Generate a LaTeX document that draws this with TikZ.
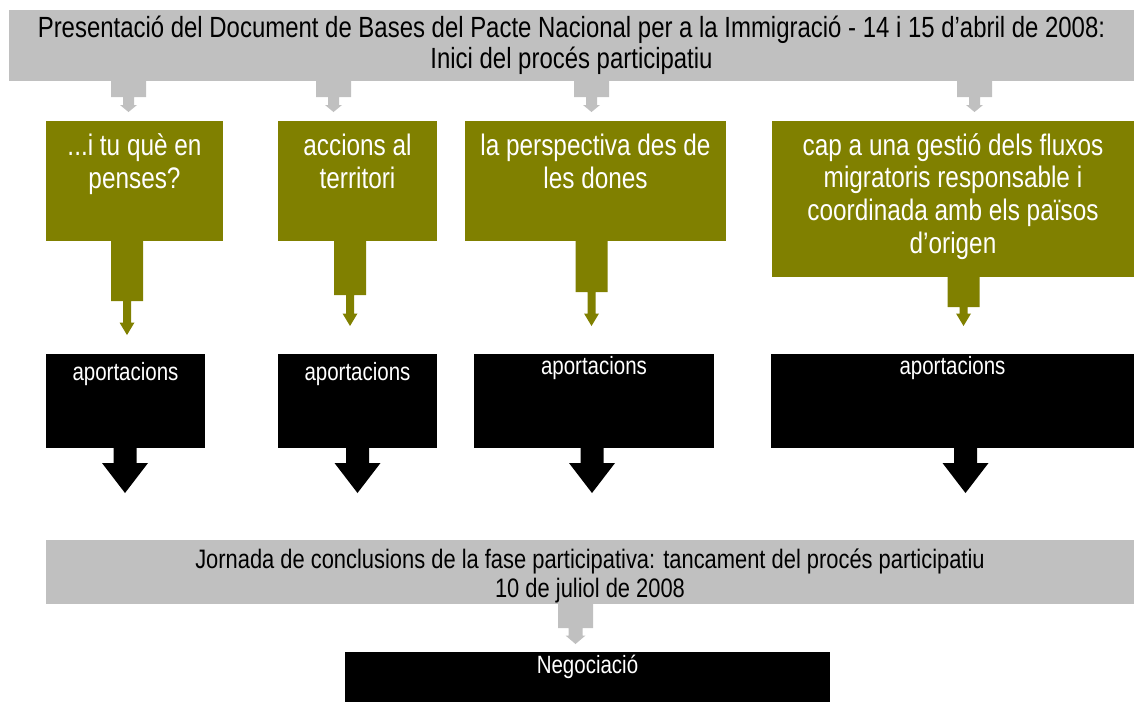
\documentclass[tikz,border=0pt]{standalone}
\usepackage{fontspec}
\setmainfont{Liberation Sans}[FakeStretch=0.82]
\usetikzlibrary{calc}
\definecolor{olivebox}{HTML}{808000}
\definecolor{graybox}{HTML}{C0C0C0}
\tikzset{
  arrw/.store in=\AWd, arrt/.store in=\ATd, arrh/.store in=\AHd, arrl/.store in=\ALd,
  panel/.style={rectangle, inner sep=0pt, outer sep=0pt, draw=none, anchor=north west},
  graypanel/.style={panel, fill=graybox},
  olivepanel/.style={panel, fill=olivebox},
  blackpanel/.style={panel, fill=black},
  bannertext/.style={inner sep=0pt, anchor=base, align=center, text=black, font=\fontsize{29.2}{31}\selectfont},
  bottomtext/.style={inner sep=0pt, anchor=base, align=center, text=black, font=\fontsize{26.7}{29}\selectfont},
  olivetext/.style={inner sep=0pt, anchor=base, align=center, text=white, font=\fontsize{29.7}{32.8}\selectfont},
  blacktext/.style={inner sep=0pt, anchor=base, align=center, text=white, font=\fontsize{25}{27}\selectfont},
  grayarrow/.style={fill=graybox, arrw=17.5pt, arrt=5.5pt, arrh=8.5pt, arrl=7pt},
  grayarrowb/.style={fill=graybox, arrw=17.5pt, arrt=7pt, arrh=10pt, arrl=8.5pt},
  olivearrow/.style={fill=olivebox, arrw=16pt, arrt=4pt, arrh=7.5pt, arrl=12.5pt},
  blackarrow/.style={fill=black, arrw=11.5pt, arrt=11.5pt, arrh=23pt, arrl=30pt},
}
% #1 style, #2 from node, #3 to node, #4 x centre, #5 length of wide part, #6 gap before target
\newcommand\steparrow[6]{%
  \fill[#1] let \p1=(#2.south), \p2=(#3.north) in
    (#4pt-\AWd,\y1) -- (#4pt-\AWd,\y1-#5pt) -- (#4pt-\ATd,\y1-#5pt)
    -- (#4pt-\ATd,\y2+#6pt+\ALd) -- (#4pt-\AHd,\y2+#6pt+\ALd) -- (#4pt,\y2+#6pt)
    -- (#4pt+\AHd,\y2+#6pt+\ALd) -- (#4pt+\ATd,\y2+#6pt+\ALd)
    -- (#4pt+\ATd,\y1-#5pt) -- (#4pt+\AWd,\y1-#5pt) -- (#4pt+\AWd,\y1) -- cycle;}
\begin{document}
\begin{tikzpicture}[x=1pt,y=-1pt]
\useasboundingbox (0,0) rectangle (1134,702);
% panels
\node[graypanel, minimum width=1125pt, minimum height=71pt] (top) at (9,10) {};
\node[olivepanel, minimum width=177pt, minimum height=120pt] (o1) at (46,121) {};
\node[olivepanel, minimum width=159pt, minimum height=120pt] (o2) at (278,121) {};
\node[olivepanel, minimum width=261pt, minimum height=120pt] (o3) at (465,121) {};
\node[olivepanel, minimum width=362pt, minimum height=156pt] (o4) at (772,121) {};
\node[blackpanel, minimum width=159pt, minimum height=94pt] (b1) at (46,354) {};
\node[blackpanel, minimum width=159pt, minimum height=94pt] (b2) at (278,354) {};
\node[blackpanel, minimum width=240pt, minimum height=94pt] (b3) at (474,354) {};
\node[blackpanel, minimum width=363pt, minimum height=94pt] (b4) at (771,354) {};
\node[graypanel, minimum width=1088pt, minimum height=64pt] (bot) at (46,540) {};
\node[blackpanel, minimum width=485pt, minimum height=50pt] (neg) at (345,652) {};
% texts (base anchor = baseline of the last line)
\node[bannertext] (toptxt) at ([yshift=-58pt]top.north) {Presentació del Document de Bases del Pacte Nacional per a la Immigració - 14 i 15 d’abril de 2008:\\Inici del procés participatiu};
\node[olivetext] (o1txt) at ([yshift=-67pt]o1.north) {...i tu què en\\penses?};
\node[olivetext] (o2txt) at ([yshift=-67pt]o2.north) {accions al\\territori};
\node[olivetext] (o3txt) at ([yshift=-67pt]o3.north) {la perspectiva des de\\les dones};
\node[olivetext] (o4txt) at ([yshift=-132.5pt]o4.north) {cap a una gestió dels fluxos\\migratoris responsable i\\coordinada amb els països\\d’origen};
\node[blacktext] (b1txt) at ([yshift=-26pt]b1.north) {aportacions};
\node[blacktext] (b2txt) at ([yshift=-26pt]b2.north) {aportacions};
\node[blacktext] (b3txt) at ([yshift=-20pt]b3.north) {aportacions};
\node[blacktext] (b4txt) at ([yshift=-20pt]b4.north) {aportacions};
\node[bottomtext] (bottxt) at ([yshift=-57pt]bot.north) {Jornada de conclusions de la fase participativa: tancament del procés participatiu\\10 de juliol de 2008};
\node[blacktext] (negtxt) at ([yshift=-21pt]neg.north) {Negociació};
% connectors
\steparrow{grayarrow}{top}{o1}{128.5}{16}{9}
\steparrow{grayarrow}{top}{o2}{333.5}{16}{9}
\steparrow{grayarrow}{top}{o3}{591.5}{16}{9}
\steparrow{grayarrow}{top}{o4}{974.5}{16}{9}
\steparrow{olivearrow}{o1}{b1}{127}{60}{19}
\steparrow{olivearrow}{o2}{b2}{350}{54}{28}
\steparrow{olivearrow}{o3}{b3}{591.5}{51}{28}
\steparrow{olivearrow}{o4}{b4}{963.5}{30}{28}
\steparrow{blackarrow}{b1}{bot}{125}{15}{47}
\steparrow{blackarrow}{b2}{bot}{357.5}{15}{47}
\steparrow{blackarrow}{b3}{bot}{592}{15}{47}
\steparrow{blackarrow}{b4}{bot}{965.5}{15}{47}
\steparrow{grayarrowb}{bot}{neg}{575.5}{24}{8}
\end{tikzpicture}
\end{document}
